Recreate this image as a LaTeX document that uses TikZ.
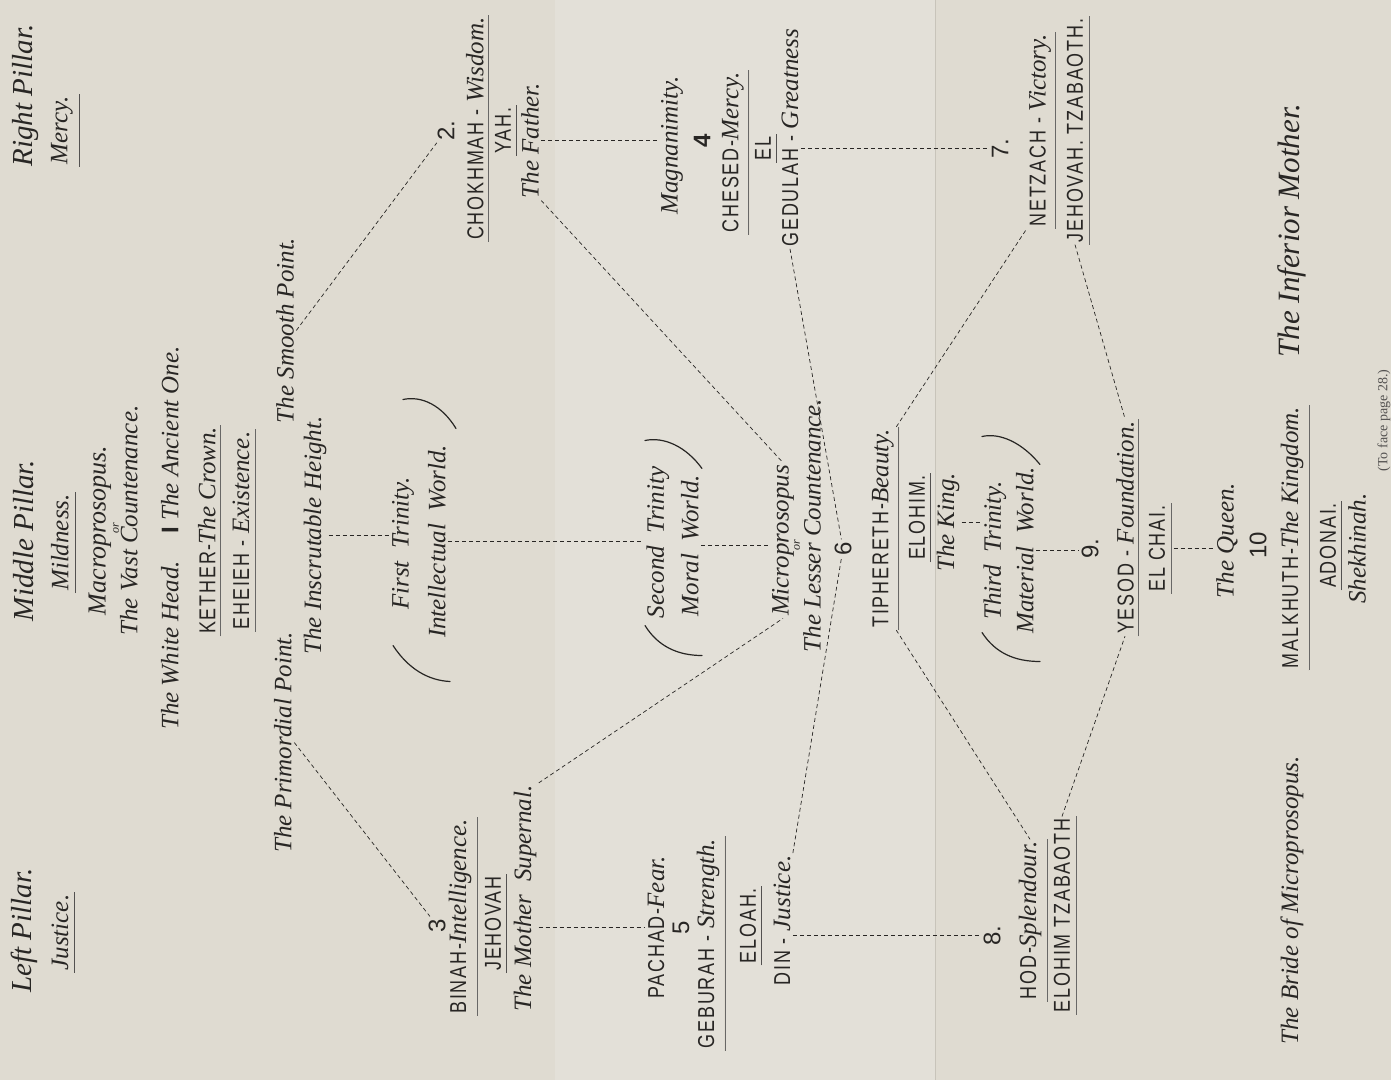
\documentclass[tikz,border=0pt]{standalone}
\usepackage{fontspec}
\setmainfont{Liberation Serif}
\newfontfamily\capsfam[FakeStretch=0.78,LetterSpace=8]{Liberation Sans}
\newfontfamily\numfam{Liberation Sans}
\usetikzlibrary{calc}

\definecolor{paper}{RGB}{223,219,209}
\definecolor{fold}{RGB}{227,224,216}
\definecolor{crease}{RGB}{200,196,186}
\definecolor{ink}{RGB}{40,38,36}

\newcommand{\labfont}{\rmfamily\itshape\fontsize{12.5}{15}\selectfont}
\newcommand{\bigfont}{\rmfamily\itshape\fontsize{14.5}{17}\selectfont}
\newcommand{\capfont}{\capsfam\fontsize{11.5}{14}\selectfont}
\newcommand{\numfont}{\numfam\fontsize{12}{14}\selectfont}
\newcommand{\tinyfont}{\rmfamily\itshape\fontsize{6}{7}\selectfont}
\newcommand{\ital}[1]{{\rmfamily\itshape\fontsize{12.5}{15}\selectfont #1}}

\begin{document}
\begin{tikzpicture}[x=0.5pt,y=-0.5pt]
	\tikzstyle{every node}=[rotate=90,inner sep=1pt,text=ink]
	\tikzstyle{lab}=[font=\labfont]
	\tikzstyle{big}=[font=\bigfont]
	\tikzstyle{caps}=[font=\capfont]
	\tikzstyle{num}=[font=\numfont]
	\tikzstyle{link}=[draw=ink,line width=0.35pt,dash pattern=on 2pt off 1.5pt]
	\tikzstyle{rule}=[draw=ink!80,line width=0.5pt]
	\tikzstyle{drule}=[draw=ink!70,line width=0.3pt,double=paper,double distance=0.45pt]
	\tikzstyle{paren}=[draw=ink,line width=0.6pt,line cap=round]

	\fill[paper] (0,0) rectangle (1391,1079);
	\fill[fold] (555,0) rectangle (935,1079);
	\draw[crease,line width=0.5pt] (935,0) -- (935,1079);
	\useasboundingbox (0,0) rectangle (1391,1079);

	\node[big] (leftp) at (24,930) {Left Pillar.};
	\node[big] (midp) at (24,540) {Middle Pillar.};
	\node[big] (rightp) at (26,95) {Right Pillar.};
	\node[lab] (justice) at (60,932) {Justice.};
	\node[lab] (mildness) at (60,542) {Mildness.};
	\node[lab] (mercy) at (62,130) {Mercy.};

	\node[lab,font=\rmfamily\itshape\fontsize{13}{15}\selectfont] (macro) at (100,530) {Macroprosopus.};
	\node[font=\tinyfont] (or1) at (116,528) {or};
	\node[lab] (vast) at (129,520) {The Vast Countenance.};

	\node[lab] (whitehead) at (170,645) {The White Head.};
	\node[font=\numfam\bfseries\fontsize{12}{14}\selectfont] (one) at (170,530) {I};
	\node[lab] (ancient) at (170,433) {The Ancient One.};
	\node[caps] (kether) at (207,530) {KETHER-\ital{The Crown.}};
	\node[caps] (eheieh) at (241,530) {EHEIEH - \ital{Existence.}};

	\node[lab] (prim) at (283,742) {The Primordial Point.};
	\node[lab] (smooth) at (285,330) {The Smooth Point.};
	\node[lab] (insc) at (315,535) {The Inscrutable Height.};
	\node[lab] (first) at (403,543) {First\enspace Trinity.};
	\node[lab] (intel) at (437,541) {Intellectual\enspace World.};

	\node[num] (two) at (446,130) {2.};
	\node[caps] (chok) at (475,128) {CHOKHMAH - \ital{Wisdom.}};
	\node[caps] (yah) at (503,130) {YAH.};
	\node[lab] (father) at (530,140) {The Father.};

	\node[num] (three) at (437,925) {3};
	\node[caps] (binah) at (460,916) {BINAH-\ital{Intelligence.}};
	\node[caps] (jehovah) at (493,923) {JEHOVAH};
	\node[lab] (mother) at (525,898) {The Mother\enspace Supernal.};

	\node[lab] (magn) at (672,145) {Magnanimity.};
	\node[num,font=\numfam\bfseries\fontsize{12}{14}\selectfont] (four) at (702,140) {4};
	\node[caps] (chesed) at (733,152) {CHESED-\ital{Mercy.}};
	\node[caps] (el) at (763,148) {EL};
	\node[caps] (gedulah) at (790,137) {GEDULAH - \ital{Greatness}};

	\node[lab] (second) at (658,542) {Second\enspace Trinity};
	\node[lab] (moral) at (690,545) {Moral\enspace World.};

	\node[caps] (pachad) at (656,927) {PACHAD-\ital{Fear.}};
	\node[num] (five) at (681,927) {5};
	\node[caps] (geburah) at (708,943) {GEBURAH - \ital{Strength.}};
	\node[caps] (eloah) at (748,925) {ELOAH.};
	\node[caps] (din) at (782,920) {DIN - \ital{Justice.}};

	\node[lab] (micro) at (783,540) {Microprosopus};
	\node[font=\tinyfont] (or2) at (797,545) {or};
	\node[lab] (lesser) at (812,525) {The Lesser Countenance.};
	\node[num] (six) at (843,548) {6};
	\node[caps] (tiph) at (883,528) {TIPHERETH-\ital{Beauty.}};
	\node[caps] (elohim) at (917,517) {ELOHIM.};
	\node[lab] (king) at (948,522) {The King.};

	\node[lab] (third) at (995,550) {Third\enspace Trinity.};
	\node[lab] (material) at (1025,550) {Material\enspace World.};

	\node[num] (seven) at (1000,148) {7.};
	\node[caps] (netz) at (1040,130) {NETZACH - \ital{Victory.}};
	\node[caps] (jtz) at (1075,130) {JEHOVAH. TZABAOTH.};

	\node[num] (eight) at (992,935) {8.};
	\node[caps] (hod) at (1030,920) {HOD-\ital{Splendour.}};
	\node[caps] (etz) at (1062,915) {ELOHIM TZABAOTH};

	\node[num] (nine) at (1090,548) {9.};
	\node[caps] (yesod) at (1125,527) {YESOD - \ital{Foundation.}};
	\node[caps] (elchai) at (1157,548) {EL CHAI.};
	\node[lab] (queen) at (1227,540) {The Queen.};
	\node[num] (ten) at (1258,545) {10};

	\node[lab,font=\rmfamily\itshape\fontsize{12.5}{15}\selectfont] (bride) at (1292,900) {The Bride of Microprosopus.};
	\node[caps] (malk) at (1292,537) {MALKHUTH-\ital{The Kingdom.}};
	\node[big,font=\rmfamily\itshape\fontsize{15.5}{18}\selectfont] (inferior) at (1292,230) {The Inferior Mother.};
	\node[caps] (adonai) at (1328,545) {ADONAI.};
	\node[lab] (shek) at (1357,548) {Shekhinah.};
	\node[font=\rmfamily\fontsize{7}{8}\selectfont,text=ink!80] (face) at (1384,420) {(To face page 28.)};

	\draw[rule] ([xshift=2pt]justice.south west) -- ([xshift=2pt]justice.south east);
	\draw[rule] ([xshift=2pt]mildness.south west) -- ([xshift=2pt]mildness.south east);
	\draw[rule] ([xshift=2pt]mercy.south west) -- ([xshift=2pt]mercy.south east);
	\draw[drule] ([xshift=1.5pt]kether.south west) -- ([xshift=1.5pt]kether.south east);
	\draw[drule] ([xshift=1.5pt]eheieh.south west) -- ([xshift=1.5pt]eheieh.south east);
	\draw[drule] ([xshift=1.5pt]chok.south west) -- ([xshift=1.5pt]chok.south east);
	\draw[rule] ([xshift=1.5pt]yah.south west) -- ([xshift=1.5pt]yah.south east);
	\draw[drule] ([xshift=1.5pt]binah.south west) -- ([xshift=1.5pt]binah.south east);
	\draw[rule] ([xshift=1.5pt]jehovah.south west) -- ([xshift=1.5pt]jehovah.south east);
	\draw[drule] ([xshift=1.5pt]chesed.south west) -- ([xshift=1.5pt]chesed.south east);
	\draw[rule] ([xshift=1.5pt]el.south west) -- ([xshift=1.5pt]el.south east);
	\draw[drule] ([xshift=1.5pt]geburah.south west) -- ([xshift=1.5pt]geburah.south east);
	\draw[rule] ([xshift=1.5pt]eloah.south west) -- ([xshift=1.5pt]eloah.south east);
	\draw[drule] ([xshift=1.5pt]tiph.south west) -- ([xshift=1.5pt]tiph.south east);
	\draw[rule] ([xshift=1.5pt]elohim.south west) -- ([xshift=1.5pt]elohim.south east);
	\draw[drule] ([xshift=1.5pt]netz.south west) -- ([xshift=1.5pt]netz.south east);
	\draw[drule] ([xshift=1.5pt]jtz.south west) -- ([xshift=1.5pt]jtz.south east);
	\draw[drule] ([xshift=1.5pt]hod.south west) -- ([xshift=1.5pt]hod.south east);
	\draw[drule] ([xshift=1.5pt]etz.south west) -- ([xshift=1.5pt]etz.south east);
	\draw[drule] ([xshift=1.5pt]yesod.south west) -- ([xshift=1.5pt]yesod.south east);
	\draw[drule] ([xshift=1.5pt]elchai.south west) -- ([xshift=1.5pt]elchai.south east);
	\draw[drule] ([xshift=1.5pt]malk.south west) -- ([xshift=1.5pt]malk.south east);
	\draw[rule] ([xshift=1.5pt]adonai.south west) -- ([xshift=1.5pt]adonai.south east);

	\draw[paren] (393,645) .. controls (408,668) and (428,680) .. (450,681);
	\draw[paren] (403,399) .. controls (422,395) and (442,405) .. (456,428);
	\draw[paren] (645,625) .. controls (658,646) and (678,655) .. (702,655);
	\draw[paren] (645,440) .. controls (664,436) and (686,446) .. (702,468);
	\draw[paren] (982,632) .. controls (995,652) and (1014,661) .. (1040,661);
	\draw[paren] (982,436) .. controls (1000,432) and (1022,442) .. (1040,464);

	\draw[link] (prim.south) -- (three);
	\draw[link] (smooth.south) -- (two);
	\draw[link] (insc.south) -- (insc.south -| first.north);
	\draw[link] (intel.south) -- (intel.south -| second.north);
	\draw[link] (moral.south) -- (moral.south -| micro.north);
	\draw[link] (king.south) -- (king.south -| third.north);
	\draw[link] (material.south) -- (material.south -| nine.north);
	\draw[link] ([xshift=3pt]elchai.south) -- (elchai.south -| queen.north);
	\draw[link] (father.south) -- (father.south -| magn.north);
	\draw[link] (pachad.north -| mother.south) -- (pachad.north);
	\draw[link] (eight.north -| din.south) -- (eight.north);
	\draw[link] (seven.north -| gedulah.south) -- (seven.north);
	\draw[link] (mother.south east) -- (micro.west);
	\draw[link] (father.south west) -- (micro.east);
	\draw[link] (gedulah.west) -- (six);
	\draw[link] (din.south east) -- (six);
	\draw[link] (tiph.south east) -- (netz.north west);
	\draw[link] (tiph.south west) -- (hod.east);
	\draw[link] (jtz.west) -- (yesod.east);
	\draw[link] (etz.east) -- (yesod.west);
\end{tikzpicture}
\end{document}
